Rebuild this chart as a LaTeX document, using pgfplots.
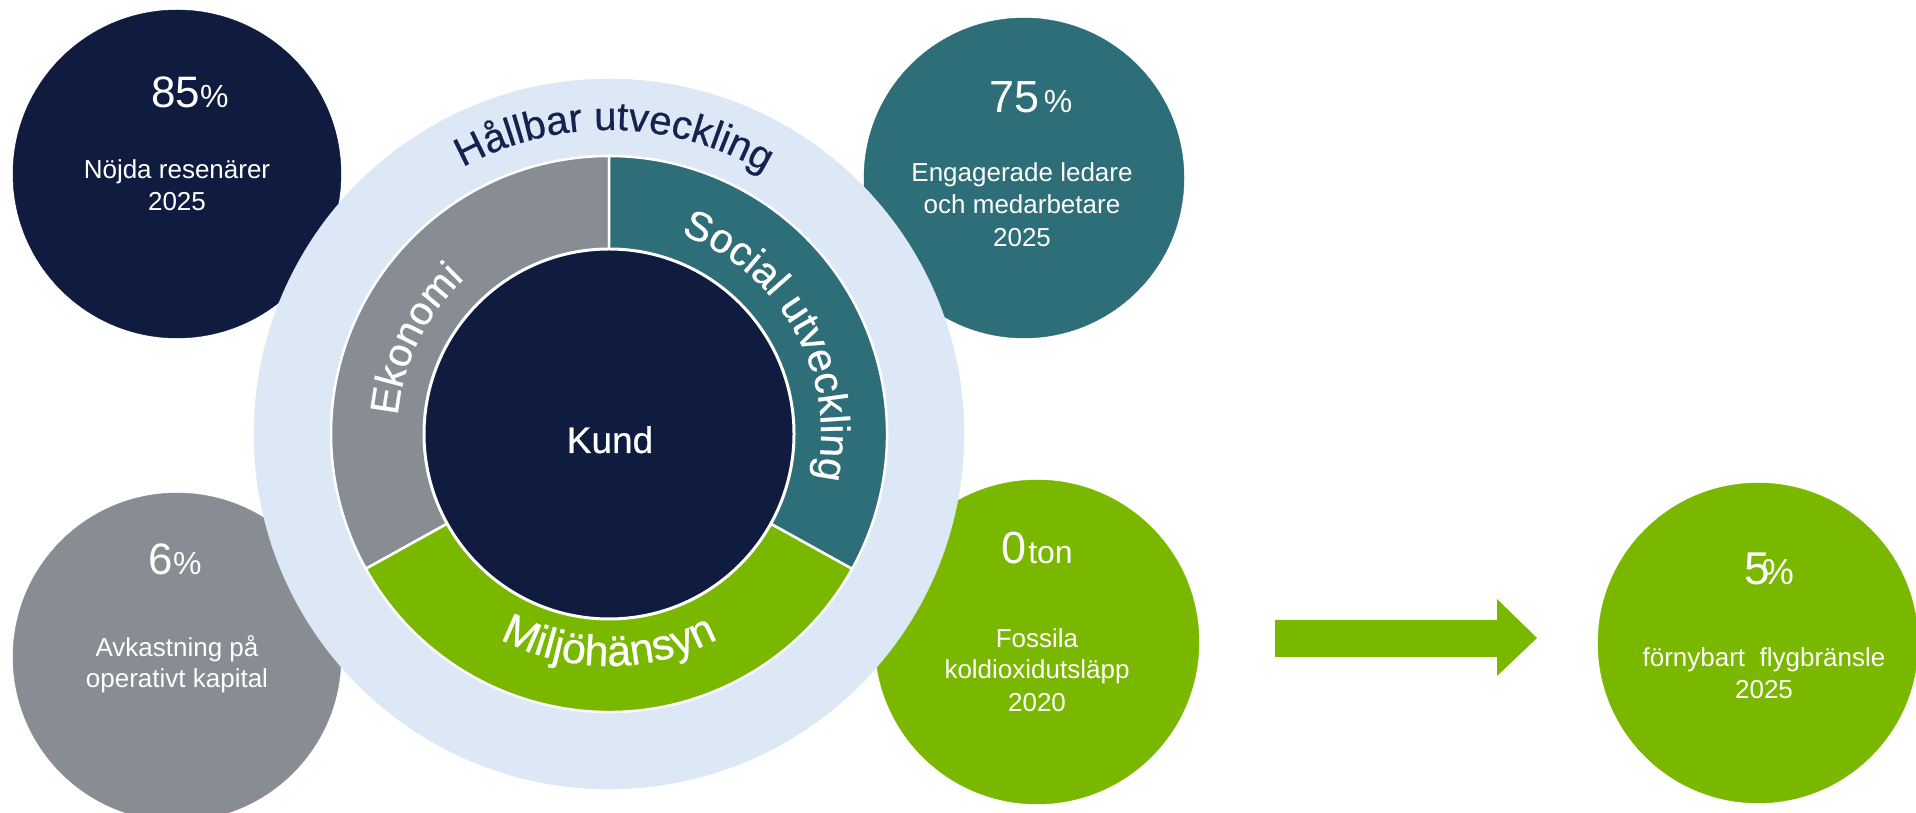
\documentclass[border=0pt]{standalone}
\usepackage{pgfplots}
\pgfplotsset{compat=1.18}
\usepackage{fontspec}
\setmainfont{Liberation Sans}
\newfontfamily\medfont[FakeBold=0.6]{Liberation Sans}
\usetikzlibrary{decorations.text}
\definecolor{cnavy}{RGB}{16,27,64}
\definecolor{cgray}{RGB}{135,141,147}
\definecolor{cteal}{RGB}{46,110,120}
\definecolor{cgreen}{RGB}{122,184,0}
\definecolor{cring}{RGB}{220,232,245}
\definecolor{ctext}{RGB}{22,34,78}
\pgfplotsset{canvas/.style={x=1pt,y=1pt,xmin=0,xmax=1916,ymin=0,ymax=813,
  axis lines=none, ticks=none, clip=false, at={(0,0)}, anchor=south west}}
\begin{document}
\begin{tikzpicture}
\begin{axis}[canvas]
% outer KPI circles: centre and radius (px)
\addplot[only marks, mark=*, color=cnavy, mark size=164pt, mark options={fill=cnavy}] coordinates {(177,639)};
\addplot[only marks, mark=*, color=cgray, mark size=164pt, mark options={fill=cgray}] coordinates {(177,156)};
\addplot[only marks, mark=*, color=cteal, mark size=160pt, mark options={fill=cteal}] coordinates {(1024,635)};
\addplot[only marks, mark=*, color=cgreen, mark size=162pt, mark options={fill=cgreen}] coordinates {(1037,171)};
\addplot[only marks, mark=*, color=cgreen, mark size=160pt, mark options={fill=cgreen}] coordinates {(1758,170)};
% arrow
\addplot[fill=cgreen, draw=none] coordinates {(1275,193) (1497,193) (1497,214) (1537,175) (1497,137) (1497,156) (1275,156)} -- cycle;
% light ring
\addplot[only marks, mark=*, color=cring, mark size=355pt, mark options={fill=cring}] coordinates {(609,379)};
\end{axis}
\begin{axis}[canvas]
% donut segments
\coordinate (c) at (axis cs:609,379);
\filldraw[fill=cgray, draw=white, line width=2.5pt] (c) -- ++(90:278pt) arc[start angle=90, end angle=209, radius=278pt] -- cycle;
\filldraw[fill=cgreen, draw=white, line width=2.5pt] (c) -- ++(209:278pt) arc[start angle=209, end angle=331, radius=278pt] -- cycle;
\filldraw[fill=cteal, draw=white, line width=2.5pt] (c) -- ++(331:278pt) arc[start angle=331, end angle=450, radius=278pt] -- cycle;
% centre
\addplot[only marks, mark=*, color=white, mark size=185pt, mark options={fill=cnavy, line width=3pt}] coordinates {(609,379)};
\end{axis}
\begin{scope}
\coordinate (c) at (609pt,379pt);
\node[anchor=base, text=white, font=\medfont\fontsize{37}{44}\selectfont] at (610pt,360pt) {Kund};
% curved labels
\path (c) ++(131:304pt) coordinate (h0);
\path[decorate, decoration={text along path, text align=center,
  text={|\medfont\fontsize{40}{48}\selectfont\color{ctext}|Hållbar utveckling}}]
  (h0) arc[start angle=131, end angle=47, radius=304pt];
\path (c) ++(195:212pt) coordinate (e0);
\path[decorate, decoration={text along path, text align=center,
  text={|\medfont\fontsize{40}{48}\selectfont\color{white}|Ekonomi}}]
  (e0) arc[start angle=195, end angle=113, radius=212pt];
\path (c) ++(80:212pt) coordinate (s0);
\path[decorate, decoration={text along path, text align=center,
  text={|\medfont\fontsize{41}{48}\selectfont\color{white}|Social utveckling}}]
  (s0) arc[start angle=80, end angle=-22, radius=212pt];
\path (c) ++(225:232pt) coordinate (m0);
\path[decorate, decoration={text along path, text align=center,
  text={|\medfont\fontsize{43}{50}\selectfont\color{white}|Miljöhänsyn}}]
  (m0) arc[start angle=225, end angle=315, radius=232pt];
% KPI texts
\node[anchor=base, text=white] at (190pt,705pt) {\fontsize{44}{50}\selectfont 85\fontsize{32}{38}\selectfont\%};
\node[anchor=base, text=white, font=\fontsize{26}{31}\selectfont] at (177pt,634pt) {Nöjda resenärer};
\node[anchor=base, text=white, font=\fontsize{26}{31}\selectfont] at (177pt,602pt) {2025};

\node[anchor=base, text=white] at (175pt,238pt) {\fontsize{44}{50}\selectfont 6\fontsize{32}{38}\selectfont\%};
\node[anchor=base, text=white, font=\fontsize{26}{31}\selectfont] at (177pt,156pt) {Avkastning på};
\node[anchor=base, text=white, font=\fontsize{26}{31}\selectfont] at (177pt,125pt) {operativt kapital};

\node[anchor=base, text=white] at (1031pt,700pt) {\fontsize{45}{50}\selectfont 75\hspace{4pt}\fontsize{32}{38}\selectfont\%};
\node[anchor=base, text=white, font=\fontsize{26}{31}\selectfont] at (1022pt,631pt) {Engagerade ledare};
\node[anchor=base, text=white, font=\fontsize{26}{31}\selectfont] at (1022pt,599pt) {och medarbetare};
\node[anchor=base, text=white, font=\fontsize{26}{31}\selectfont] at (1022pt,566pt) {2025};

\node[anchor=base, text=white] at (1037pt,249pt) {\fontsize{45}{50}\selectfont 0\hspace{2pt}\fontsize{32}{38}\selectfont ton};
\node[anchor=base, text=white, font=\fontsize{26}{31}\selectfont] at (1037pt,165pt) {Fossila};
\node[anchor=base, text=white, font=\fontsize{26}{31}\selectfont] at (1037pt,134pt) {koldioxidutsläpp};
\node[anchor=base, text=white, font=\fontsize{26}{31}\selectfont] at (1037pt,101pt) {2020};

\node[anchor=base, text=white] at (1769pt,228pt) {\fontsize{46}{50}\selectfont 5\kern-8pt\fontsize{36}{40}\selectfont\%};
\node[anchor=base, text=white, font=\fontsize{26}{31}\selectfont] at (1764pt,146pt) {förnybart\ \ flygbränsle};
\node[anchor=base, text=white, font=\fontsize{26}{31}\selectfont] at (1764pt,114pt) {2025};
\end{scope}
\pgfresetboundingbox
\useasboundingbox (0,0) rectangle (1916pt,813pt);
\end{tikzpicture}
\end{document}
